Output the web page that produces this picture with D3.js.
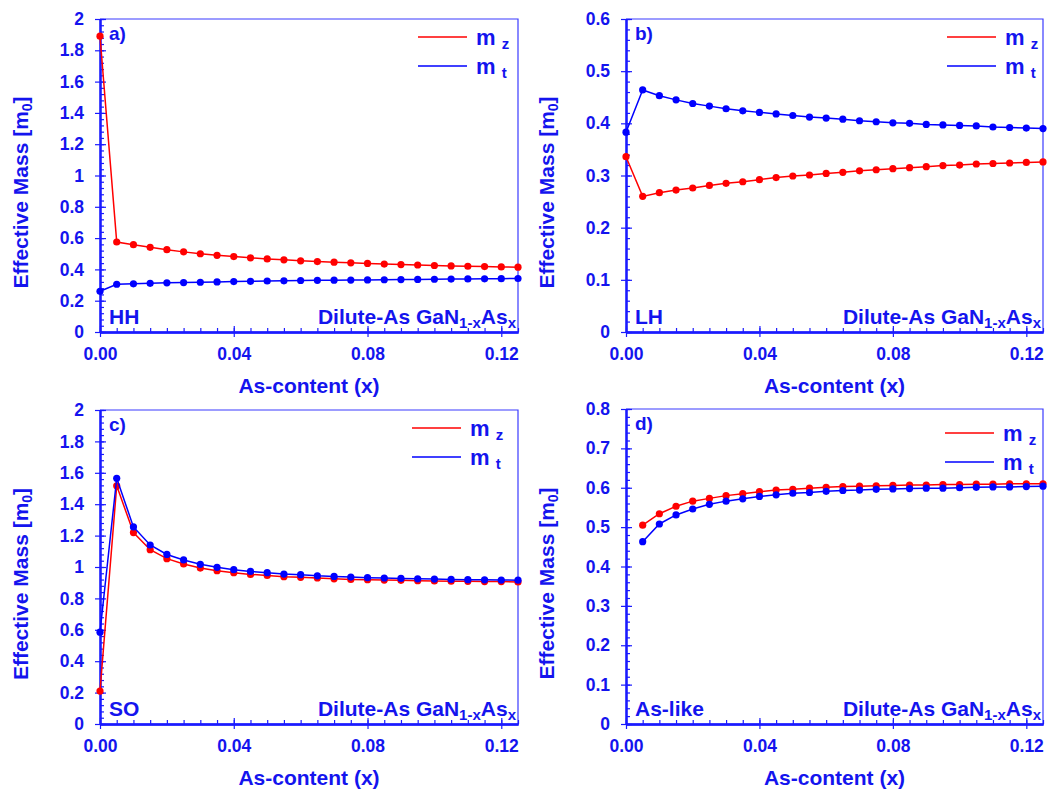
<!DOCTYPE html>
<html>
<head>
<meta charset="utf-8">
<script src="https://cdn.jsdelivr.net/npm/d3@7"></script>
<style>
body { margin: 0; background: #fff; }
svg { display: block; }
text { font-family: "Liberation Sans", Arial, sans-serif; font-weight: bold; fill: #1414ee; }
</style>
</head>
<body>
<svg width="1048" height="790"></svg>
<script>

// As-content values (x)
var asContent = [0, 0.005, 0.01, 0.015, 0.02, 0.025, 0.03, 0.035, 0.04, 0.045, 0.05, 0.055, 0.06,
    0.065, 0.07, 0.075, 0.08, 0.085, 0.09, 0.095, 0.1, 0.105, 0.11, 0.115, 0.12, 0.125];
var asContentD = [0.005, 0.01, 0.015, 0.02, 0.025, 0.03, 0.035, 0.04, 0.045, 0.05, 0.055, 0.06,
    0.065, 0.07, 0.075, 0.08, 0.085, 0.09, 0.095, 0.1, 0.105, 0.11, 0.115, 0.12, 0.125];

// a) HH
var hhMz = [1.89, 0.575, 0.558, 0.541, 0.526, 0.512, 0.500, 0.490, 0.482, 0.474, 0.467, 0.461, 0.455,
    0.450, 0.446, 0.442, 0.438, 0.434, 0.431, 0.428, 0.425, 0.422, 0.420, 0.418, 0.416, 0.414];
var hhMt = [0.26, 0.305, 0.308, 0.311, 0.314, 0.316, 0.318, 0.320, 0.322, 0.324, 0.326, 0.327, 0.329,
    0.330, 0.331, 0.332, 0.333, 0.334, 0.335, 0.336, 0.337, 0.338, 0.339, 0.340, 0.341, 0.342];

// b) LH
var lhMz = [0.336, 0.260, 0.267, 0.272, 0.276, 0.281, 0.285, 0.288, 0.292, 0.296, 0.299, 0.301, 0.304,
    0.306, 0.309, 0.311, 0.313, 0.315, 0.317, 0.319, 0.320, 0.322, 0.323, 0.324, 0.325, 0.326];
var lhMt = [0.383, 0.464, 0.453, 0.445, 0.438, 0.433, 0.428, 0.424, 0.421, 0.418, 0.415, 0.412, 0.410,
    0.408, 0.405, 0.403, 0.401, 0.400, 0.398, 0.397, 0.396, 0.395, 0.393, 0.392, 0.391, 0.390];

// c) SO
var soMz = [0.21, 1.517, 1.219, 1.110, 1.053, 1.019, 0.993, 0.976, 0.964, 0.953, 0.946, 0.938, 0.934,
    0.930, 0.925, 0.921, 0.919, 0.917, 0.915, 0.913, 0.911, 0.910, 0.909, 0.907, 0.907, 0.905];
var soMt = [0.585, 1.565, 1.255, 1.140, 1.080, 1.045, 1.017, 0.998, 0.983, 0.972, 0.964, 0.955, 0.951,
    0.944, 0.940, 0.936, 0.932, 0.930, 0.927, 0.925, 0.923, 0.921, 0.919, 0.918, 0.917, 0.916];

// d) As-like
var asMz = [0.505, 0.534, 0.553, 0.566, 0.573, 0.580, 0.585, 0.590, 0.594, 0.596, 0.599, 0.601,
    0.603, 0.604, 0.605, 0.606, 0.607, 0.607, 0.608, 0.608, 0.609, 0.609, 0.610, 0.610, 0.610];
var asMt = [0.463, 0.508, 0.531, 0.546, 0.558, 0.566, 0.572, 0.578, 0.582, 0.586, 0.588, 0.591,
    0.593, 0.594, 0.596, 0.597, 0.598, 0.599, 0.599, 0.600, 0.601, 0.602, 0.602, 0.603, 0.604];

// ticks
var xTicks = [0, 0.04, 0.08, 0.12];
var xTickLabels = ["0.00", "0.04", "0.08", "0.12"];
var yTicksBig = [0, 0.2, 0.4, 0.6, 0.8, 1, 1.2, 1.4, 1.6, 1.8, 2];
var yTicksLH = [0, 0.1, 0.2, 0.3, 0.4, 0.5, 0.6];
var yTicksAs = [0, 0.1, 0.2, 0.3, 0.4, 0.5, 0.6, 0.7, 0.8];

var panels = [
    {tag: "a)", band: "HH", x: asContent, mz: hhMz, mt: hhMt, yTicks: yTicksBig,
     left: 100, right: 518, top: 19, bottom: 332, legTop: 37, legX: 418},
    {tag: "b)", band: "LH", x: asContent, mz: lhMz, mt: lhMt, yTicks: yTicksLH,
     left: 626, right: 1043, top: 19, bottom: 332, legTop: 37, legX: 947},
    {tag: "c)", band: "SO", x: asContent, mz: soMz, mt: soMt, yTicks: yTicksBig,
     left: 100, right: 518, top: 410, bottom: 724, legTop: 428, legX: 412},
    {tag: "d)", band: "As-like", x: asContentD, mz: asMz, mt: asMt, yTicks: yTicksAs,
     left: 626, right: 1043, top: 409, bottom: 724, legTop: 433, legX: 945}
];

var blue = "#0000ff", red = "#ff0000", axisCol = "#1a1aff";
var svg = d3.select("svg");

function drawPanel(p) {
    var g = svg.append("g");
    var yMax = p.yTicks[p.yTicks.length - 1];
    var step = p.yTicks[1] - p.yTicks[0];

    var x = d3.scaleLinear().domain([0, 0.125]).range([p.left, p.right]);
    var y = d3.scaleLinear().domain([0, yMax]).range([p.bottom, p.top]);

    // frame (top and right)
    g.append("path")
        .attr("d", "M" + p.left + "," + p.top + "H" + p.right + "V" + p.bottom)
        .attr("fill", "none")
        .attr("stroke", "#3b3bff")
        .attr("stroke-width", 1.2);

    // minor tick values
    var xMinor = d3.range(0, 0.1251, 0.005);
    var yMinor = d3.range(0, yMax + step / 10, step / 5);

    // x axis
    g.append("g").attr("transform", "translate(0," + p.bottom + ")")
        .call(d3.axisBottom(x).tickValues(xTicks)
            .tickFormat(function(d, i) { return xTickLabels[i]; })
            .tickSize(5).tickSizeOuter(0).tickPadding(11));
    g.append("g").attr("transform", "translate(0," + p.bottom + ")")
        .call(d3.axisTop(x).tickValues(xMinor).tickSize(4).tickSizeOuter(0).tickFormat(""));
    g.append("g").attr("transform", "translate(0," + p.bottom + ")")
        .call(d3.axisTop(x).tickValues(xTicks).tickSize(6).tickSizeOuter(0).tickFormat(""));

    // y axis
    g.append("g").attr("transform", "translate(" + p.left + ",0)")
        .call(d3.axisLeft(y).tickValues(p.yTicks)
            .tickFormat(function(d) { return String(+d.toFixed(2)); })
            .tickSize(5).tickSizeOuter(0).tickPadding(11));
    g.append("g").attr("transform", "translate(" + p.left + ",0)")
        .call(d3.axisRight(y).tickValues(yMinor).tickSize(4).tickSizeOuter(0).tickFormat(""));
    g.append("g").attr("transform", "translate(" + p.left + ",0)")
        .call(d3.axisRight(y).tickValues(p.yTicks).tickSize(6).tickSizeOuter(0).tickFormat(""));

    g.selectAll(".domain").attr("stroke", axisCol).attr("stroke-width", 1.8);
    g.selectAll(".tick line").attr("stroke", axisCol).attr("stroke-width", 1.2);
    g.selectAll(".tick text").attr("font-size", 17.5).attr("fill", "#1414ee")
        .attr("font-family", "Liberation Sans, Arial, sans-serif").attr("font-weight", "bold");

    // axis titles
    g.append("text")
        .attr("x", (p.left + p.right) / 2)
        .attr("y", p.bottom + 61)
        .attr("text-anchor", "middle")
        .attr("font-size", 21)
        .text("As-content (x)");

    var yt = g.append("text")
        .attr("transform", "translate(" + (p.left - 72) + "," + ((p.top + p.bottom) / 2 + 17) + ") rotate(-90)")
        .attr("text-anchor", "middle")
        .attr("font-size", 21);
    yt.append("tspan").text("Effective Mass [m");
    yt.append("tspan").attr("font-size", 14).attr("dy", 4).text("0");
    yt.append("tspan").attr("dy", -4).text("]");

    // series
    var series = [{v: p.mz, c: red}, {v: p.mt, c: blue}];
    var line = d3.line()
        .x(function(d) { return x(d[0]); })
        .y(function(d) { return y(d[1]); });

    series.forEach(function(s) {
        var pts = p.x.map(function(xv, i) { return [xv, s.v[i]]; });
        g.append("path")
            .datum(pts)
            .attr("d", line)
            .attr("fill", "none")
            .attr("stroke", s.c)
            .attr("stroke-width", 1.5);
        g.selectAll(null)
            .data(pts)
            .enter()
            .append("circle")
            .attr("cx", function(d) { return x(d[0]); })
            .attr("cy", function(d) { return y(d[1]); })
            .attr("r", 3.6)
            .attr("fill", s.c);
    });

    // legend
    var names = ["z", "t"];
    series.forEach(function(s, i) {
        var ly = p.legTop + i * 29;
        g.append("line")
            .attr("x1", p.legX).attr("x2", p.legX + 49)
            .attr("y1", ly).attr("y2", ly)
            .attr("stroke", s.c).attr("stroke-width", 1.6);
        var t = g.append("text")
            .attr("x", p.legX + 58)
            .attr("y", ly + 8)
            .attr("font-size", 22)
            .text("m ");
        t.append("tspan").attr("font-size", 15).attr("dy", 4).text(names[i]);
    });

    // panel tag and band
    g.append("text")
        .attr("x", p.left + 9)
        .attr("y", p.top + 21)
        .attr("font-size", 19)
        .text(p.tag);

    g.append("text")
        .attr("x", p.left + 9)
        .attr("y", p.bottom - 8)
        .attr("font-size", 21)
        .text(p.band);

    var ct = g.append("text")
        .attr("x", p.right - 2)
        .attr("y", p.bottom - 8)
        .attr("text-anchor", "end")
        .attr("font-size", 21);
    ct.append("tspan").text("Dilute-As GaN");
    ct.append("tspan").attr("font-size", 15).attr("dy", 4).text("1-x");
    ct.append("tspan").attr("dy", -4).text("As");
    ct.append("tspan").attr("font-size", 15).attr("dy", 4).text("x");
}

panels.forEach(drawPanel);

</script>
</body>
</html>
